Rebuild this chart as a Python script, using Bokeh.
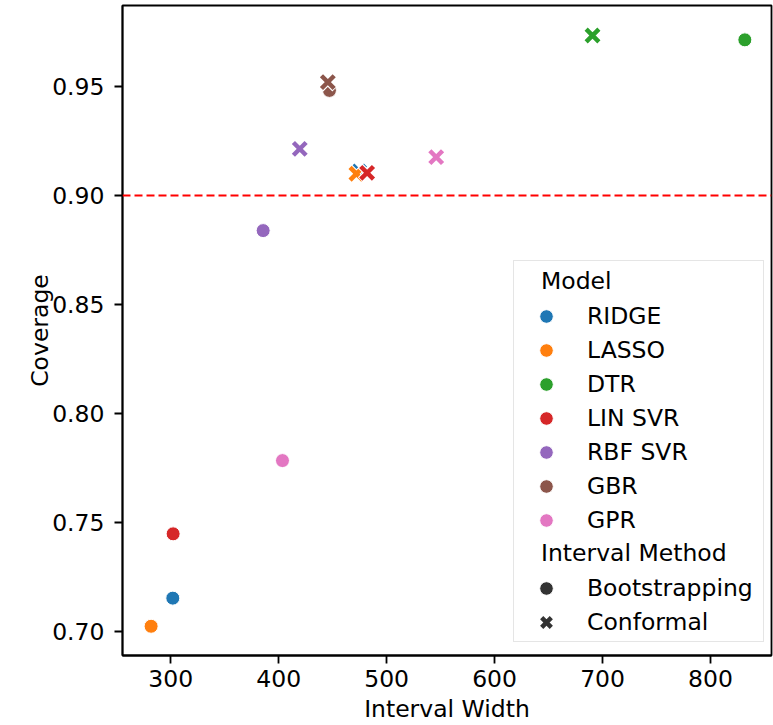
from bokeh.plotting import figure
from bokeh.models import ColumnDataSource, Span, Legend, LegendItem, FixedTicker, Range1d
from bokeh.embed import file_html
from bokeh.resources import INLINE

# ---------------- data ----------------
models = ["RIDGE", "LASSO", "DTR", "LIN SVR", "RBF SVR", "GBR", "GPR"]
colors = ["#1f77b4", "#ff7f0e", "#2ca02c", "#d62728", "#9467bd", "#8c564b", "#e377c2"]
methods = ["Bootstrapping", "Conformal"]
legend_titles = ["Model", "Interval Method"]

boot_width = [301.9, 281.8, 831.8, 302.2, 385.6, 447.0, 403.5]
boot_cov = [0.7153, 0.7024, 0.9714, 0.7448, 0.8839, 0.9482, 0.7784]
conf_width = [474.5, 472.0, 690.7, 481.9, 419.5, 445.5, 545.9]
conf_cov = [0.9110, 0.9100, 0.9734, 0.9104, 0.9214, 0.9520, 0.9176]

target_coverage = 0.90

x_ticks = [300, 400, 500, 600, 700, 800]
x_tick_labels = ["300", "400", "500", "600", "700", "800"]
y_ticks = [0.70, 0.75, 0.80, 0.85, 0.90, 0.95]
y_tick_labels = ["0.70", "0.75", "0.80", "0.85", "0.90", "0.95"]

FONT = "DejaVu Sans"
FS = "23.5px"
DARK = "#333333"
NAN = float("nan")

p = figure(width=773, height=725, output_backend="svg", toolbar_location=None,
           x_range=Range1d(255.3, 856.5), y_range=Range1d(0.68899, 0.98716),
           min_border_left=122, min_border_right=2, min_border_top=5, min_border_bottom=70)

p.background_fill_color = "white"
p.border_fill_color = "white"
p.outline_line_color = "black"
p.outline_line_width = 1.8
p.xgrid.visible = False
p.ygrid.visible = False

for ax, ticks, labels in ((p.xaxis[0], x_ticks, x_tick_labels), (p.yaxis[0], y_ticks, y_tick_labels)):
    ax.ticker = FixedTicker(ticks=ticks)
    ax.major_label_overrides = {t: l for t, l in zip(ticks, labels)}
    ax.minor_tick_line_color = None
    ax.major_tick_out = 8
    ax.major_tick_in = 0
    ax.major_tick_line_color = "black"
    ax.major_tick_line_width = 1.8
    ax.axis_line_color = "black"
    ax.axis_line_width = 1.8
    ax.major_label_text_font = FONT
    ax.major_label_text_font_size = FS
    ax.major_label_text_color = "black"
    ax.axis_label_text_font = FONT
    ax.axis_label_text_font_size = FS
    ax.axis_label_text_font_style = "normal"
    ax.axis_label_text_color = "black"

p.xaxis.axis_label = "Interval Width"
p.yaxis.axis_label = "Coverage"
p.xaxis.major_label_standoff = 6
p.xaxis.axis_label_standoff = 5
p.yaxis.major_label_standoff = 10
p.yaxis.axis_label_standoff = -5

# target line
p.add_layout(Span(location=target_coverage, dimension="width", line_color="red",
                  line_width=2.2, line_dash="8 4"))

# bootstrapping circles (drawn first, in model order)
boot_renderers = []
for i in range(len(models)):
    src = ColumnDataSource(dict(x=[boot_width[i]], y=[boot_cov[i]]))
    r = p.scatter("x", "y", source=src, marker="circle", size=14, fill_color=colors[i],
                  line_color="white", line_width=1.0)
    boot_renderers.append(r)

# conformal X markers (drawn after, in model order)
XS, XW = 18, 4.5
for i in range(len(models)):
    src = ColumnDataSource(dict(x=[conf_width[i]], y=[conf_cov[i]]))
    p.scatter("x", "y", source=src, marker="x", size=XS + 1.5, line_color="white", line_width=XW + 2.2)
    p.scatter("x", "y", source=src, marker="x", size=XS, line_color=colors[i], line_width=XW)

# ---------------- legend ----------------
def dummy():
    return ColumnDataSource(dict(x=[NAN], y=[NAN]))

# frame box carrying the two section titles
blank_r = p.scatter("x", "y", source=dummy(), marker="circle", size=1, fill_alpha=0, line_alpha=0)
frame_labels = [legend_titles[0]] + [" "] * len(models) + [legend_titles[1]] + [" "] * len(methods)
frame_leg = Legend(items=[LegendItem(label=l, renderers=[blank_r]) for l in frame_labels],
                   location=(391, 13), margin=0, padding=3, spacing=0,
                   glyph_width=2, glyph_height=34, label_width=219, label_height=34,
                   label_standoff=22, label_text_font=FONT, label_text_font_size=FS,
                   label_text_color="black",
                   background_fill_color="white", background_fill_alpha=0.8,
                   border_line_color="#cccccc", border_line_width=1.5)
p.add_layout(frame_leg)

model_items = [LegendItem(label=m, renderers=[boot_renderers[i]]) for i, m in enumerate(models)]

rb = p.scatter("x", "y", source=dummy(), marker="circle", size=14, fill_color=DARK,
               line_color="white", line_width=1.0)
rc_w = p.scatter("x", "y", source=dummy(), marker="x", size=XS, line_color="white", line_width=XW + 2.2)
rc = p.scatter("x", "y", source=dummy(), marker="x", size=XS, line_color=DARK, line_width=XW)
method_items = [LegendItem(label=methods[0], renderers=[rb]),
                LegendItem(label=methods[1], renderers=[rc_w, rc])]

common = dict(margin=0, padding=0, glyph_width=34, glyph_height=34, label_height=34,
              spacing=0, label_standoff=24, label_text_font=FONT, label_text_font_size=FS,
              label_text_color="black", background_fill_alpha=0, border_line_alpha=0)

model_leg = Legend(items=model_items, location=(407, 118), **common)
method_leg = Legend(items=method_items, location=(407, 16), **common)
p.add_layout(model_leg)
p.add_layout(method_leg)

open("out.html", "w").write(file_html(p, INLINE))
